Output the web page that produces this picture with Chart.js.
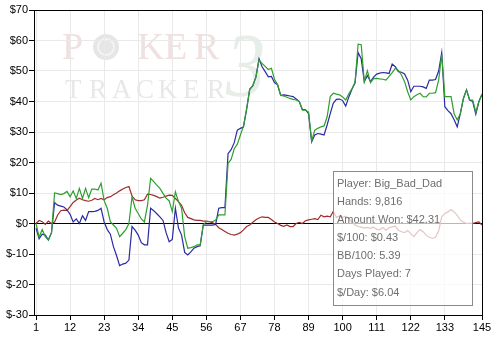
<!DOCTYPE html>
<html><head><meta charset="utf-8">
<script src="https://cdn.jsdelivr.net/npm/chart.js@4"></script>
<style>
html,body{margin:0;padding:0;background:#fff;}
#wrap{position:relative;width:498px;height:339px;overflow:hidden;background:#fff;}
#c{position:absolute;left:0;top:0;}
#info{position:absolute;left:333px;top:171px;width:140px;height:135px;border:1px solid #8a8a8a;background:rgba(255,255,255,0.72);font:11px "Liberation Sans",Arial,sans-serif;color:#6e6e6e;box-sizing:border-box;padding:2px 0 0 3px;line-height:18.1px;white-space:nowrap;}
</style></head>
<body>
<div id="wrap"><canvas id="c" width="498" height="339"></canvas><div id="info"></div></div>
<script>
// ---- data ----
const xTickLabels = [1,12,23,34,45,56,67,78,89,100,111,122,133,145];
const yTickValues = [-30,-20,-10,0,10,20,30,40,50,60,70];

const greenSeries = [
0,-4.5,-2,-4.3,-5.4,-3,10,9.8,9.5,9.8,10.5,8.8,10.7,8.2,11.5,8.2,11.5,8.5,11.3,11.3,
11,13.2,7.5,5,0.6,-0.5,-1.6,-4.3,-3.2,-2,0,8.8,5,3.3,1.5,0.5,6,14.8,13.7,12.6,
11.5,9.9,8.3,7.4,3.9,10.4,7.2,5,-4.3,-8.1,-7.9,-7.6,-7,-7,-0.5,0.6,0.6,0.6,1.1,2.8,
2.8,2.8,19.7,21,24.5,26,29,32,37.5,44,45.2,48,53.6,52.5,51.5,50.5,50.9,47.3,45.5,42,
41.8,41.4,41,40.7,40.5,40,37.2,37.2,36.5,27,30.6,31.2,31.7,32,35,41.6,42.7,42.4,42.2,41.5,
40.5,42.5,44.2,46.3,58.8,58.6,46.5,50.1,46.2,47.5,47.6,47.4,47.3,47,48.2,49.5,50.9,50.2,48.7,46.5,
43.2,40.5,41.6,42.2,42.7,41.6,41.5,42.7,42.7,42.9,47,55.4,41.6,41.6,41.6,36,34,36,41,43.8,
40.5,40.5,36.5,40,42.5];

const blueSeries = [
-1.5,-5,-3.5,-3.8,-5.4,-3,6.8,6,5.7,5.4,4.5,3,0.5,1.5,0,2.5,1,3.9,3.9,4,
4.3,5,0.5,-2,-3.5,-7.6,-10.5,-13.8,-13.3,-13,-12,-1,-2.2,-3.8,-6.3,-7,-7,5,4.2,3.2,
2.2,1,-3,-6,-5.2,5,-1.5,-3.8,-9.5,-10.3,-9.3,-8.1,-7.6,-7.3,-0.5,-0.5,-0.5,-0.5,-0.3,5,
5.2,5.2,22.9,24.2,26.5,30.6,31.2,31.7,37.5,44,45.2,48,54,51.4,49.8,48.1,48.2,46.2,45.5,42,
42.2,42,41.8,41.6,40.8,40,37.4,37.3,36,26.8,29,29.5,29.3,29,32.3,36,39.5,40.7,40.8,40.3,
38.5,41.5,44,46,56,54,46.5,48.5,46.5,48,49,49.3,49.5,49.4,49.2,52.3,51.4,49.8,49.6,49,
47,43.2,45,45,45,44.8,44.3,47,47,47.2,50,56,38.3,37,36,34,31.7,36,41,43.8,
40.5,40,35.8,40,42.3];

const redSeries = [
0,1,0.6,-0.3,0.8,0,0.5,2.8,4.2,4.4,4.2,5.5,6.9,7.7,8.3,7.8,7.5,7.3,7.6,8.2,
7.8,8.2,7.8,8.5,8.8,9.4,10,10.7,11.3,11.8,12.1,9,7.8,7.5,7.5,7.8,9.6,9.5,9.2,8.8,
8.3,8.6,9,9.3,9.2,8.2,7.2,6,3.5,2,1.6,1.2,1,1,0.8,0.8,0.6,0.3,-0.3,-1.4,
-2,-2.6,-3.2,-3.6,-3.8,-3.5,-3,-2.1,-1,-0.5,0.4,1.2,1.8,2.2,2,2,1.3,0.5,0,-0.6,
-0.9,-0.5,-1,-1,0,0.4,0,0.9,1.2,1.4,1.6,1.3,2.7,2.2,2.4,2.2,4,2,2.5,2,
2.4,1.6,0.5,-0.5,-1,-1.2,-1.5,-1.3,-1.6,-1.2,-1.9,-2,-1.3,-2.2,-1.4,-1.1,-0.9,-2.2,-2.7,-3,
-2.3,-3.3,-4.3,-3,-2,-2.7,-3.9,-4.5,-4.9,-4.5,-2.5,2.2,3.3,3.8,4.6,3.8,2.7,1.1,0.5,0,
0.1,0,0.3,0.5,-0.5];

const infoLines = ["Player: Big_Bad_Dad","Hands: 9,816","Amount Won: $42.31","$/100: $0.43","BB/100: 5.39","Days Played: 7","$/Day: $6.04"];

// ---- build ----
const handIndex = greenSeries.map((_, i) => i + 1);
const toPoints = arr => arr.map((v, i) => ({x: handIndex[i], y: v}));

document.getElementById('info').innerHTML = infoLines.map(t => '<div>' + t.replace(/&/g,'&amp;') + '</div>').join('');

const FONT = '"Liberation Sans", Arial, sans-serif';
Chart.defaults.font.family = FONT;
Chart.defaults.font.size = 11;
Chart.defaults.color = '#000';

const watermark = {
  id: 'watermark',
  beforeDraw(chart) {
    const ctx = chart.ctx;
    ctx.save();
    ctx.textBaseline = 'alphabetic';
    // big "3"
    ctx.save();
    ctx.translate(226, 96);
    ctx.scale(0.85, 1);
    ctx.font = 'italic 92px "Liberation Serif", serif';
    ctx.fillStyle = '#e7eee7';
    ctx.fillText('3', 0, 0);
    ctx.restore();
    // TRACKER
    ctx.font = '27px "Liberation Serif", serif';
    ctx.fillStyle = '#e8e8e8';
    const tr = 'TRACKER'.split('');
    const trX = [65, 89, 112, 136, 158, 183, 207];
    tr.forEach((ch, i) => ctx.fillText(ch, trX[i], 98));
    // POKER
    ctx.font = '38px "Liberation Serif", serif';
    ctx.fillStyle = '#f1e0e0';
    ctx.fillText('P', 62, 59);
    ctx.fillText('K', 137, 59);
    ctx.fillText('E', 164, 59);
    ctx.fillText('R', 194, 59);
    // chip in place of O
    ctx.beginPath(); ctx.arc(106, 47, 13, 0, Math.PI * 2);
    ctx.fillStyle = '#e6e6e6'; ctx.fill();
    ctx.beginPath(); ctx.arc(106, 47, 8, 0, Math.PI * 2);
    ctx.strokeStyle = '#f4f4f4'; ctx.lineWidth = 2; ctx.stroke();
    ctx.restore();
  }
};

const frame = {
  id: 'frame',
  afterDraw(chart) {
    const {ctx, chartArea: a} = chart;
    ctx.save();
    ctx.strokeStyle = '#000';
    ctx.lineWidth = 1;
    ctx.beginPath();
    ctx.moveTo(a.left, a.top + 0.5);
    ctx.lineTo(a.right + 0.5, a.top + 0.5);
    ctx.lineTo(a.right + 0.5, a.bottom);
    ctx.stroke();
    ctx.restore();
  }
};

new Chart(document.getElementById('c'), {
  type: 'line',
  data: {
    datasets: [
      {label: 'Won (green)', data: toPoints(greenSeries), borderColor: '#2f9e2f', borderWidth: 1.2, pointRadius: 0, tension: 0},
      {label: 'Won (blue)', data: toPoints(blueSeries), borderColor: '#2a2aa2', borderWidth: 1.2, pointRadius: 0, tension: 0},
      {label: 'Won (red)', data: toPoints(redSeries), borderColor: '#a02c2c', borderWidth: 1.2, pointRadius: 0, tension: 0}
    ]
  },
  options: {
    responsive: false,
    animation: false,
    devicePixelRatio: 1,
    layout: {padding: {top: 10, right: 16, left: 0, bottom: 0}},
    plugins: {legend: {display: false}, tooltip: {enabled: false}},
    scales: {
      x: {
        type: 'linear', min: 0.35, max: 145,
        afterBuildTicks: s => { s.ticks = xTickLabels.map(v => ({value: v})); },
        afterFit: s => { s.height = 24; },
        ticks: {autoSkip: false, maxRotation: 0, padding: 1, color: '#000', font: {size: 11}, callback: v => String(v)},
        grid: {color: '#e9e9e9', tickColor: '#000', tickLength: 5, drawTicks: true},
        border: {color: '#000', width: 1}
      },
      y: {
        min: -30, max: 70,
        afterBuildTicks: s => { s.ticks = yTickValues.map(v => ({value: v})); },
        afterFit: s => { s.width = 34; },
        ticks: {padding: 1, color: '#000', font: {size: 11}, callback: v => '$' + v},
        grid: {color: c => (c.tick && c.tick.value === 0) ? '#000' : '#e9e9e9', tickColor: '#000', tickLength: 5},
        border: {color: '#000', width: 1}
      }
    }
  },
  plugins: [watermark, frame]
});
</script>
</body></html>
